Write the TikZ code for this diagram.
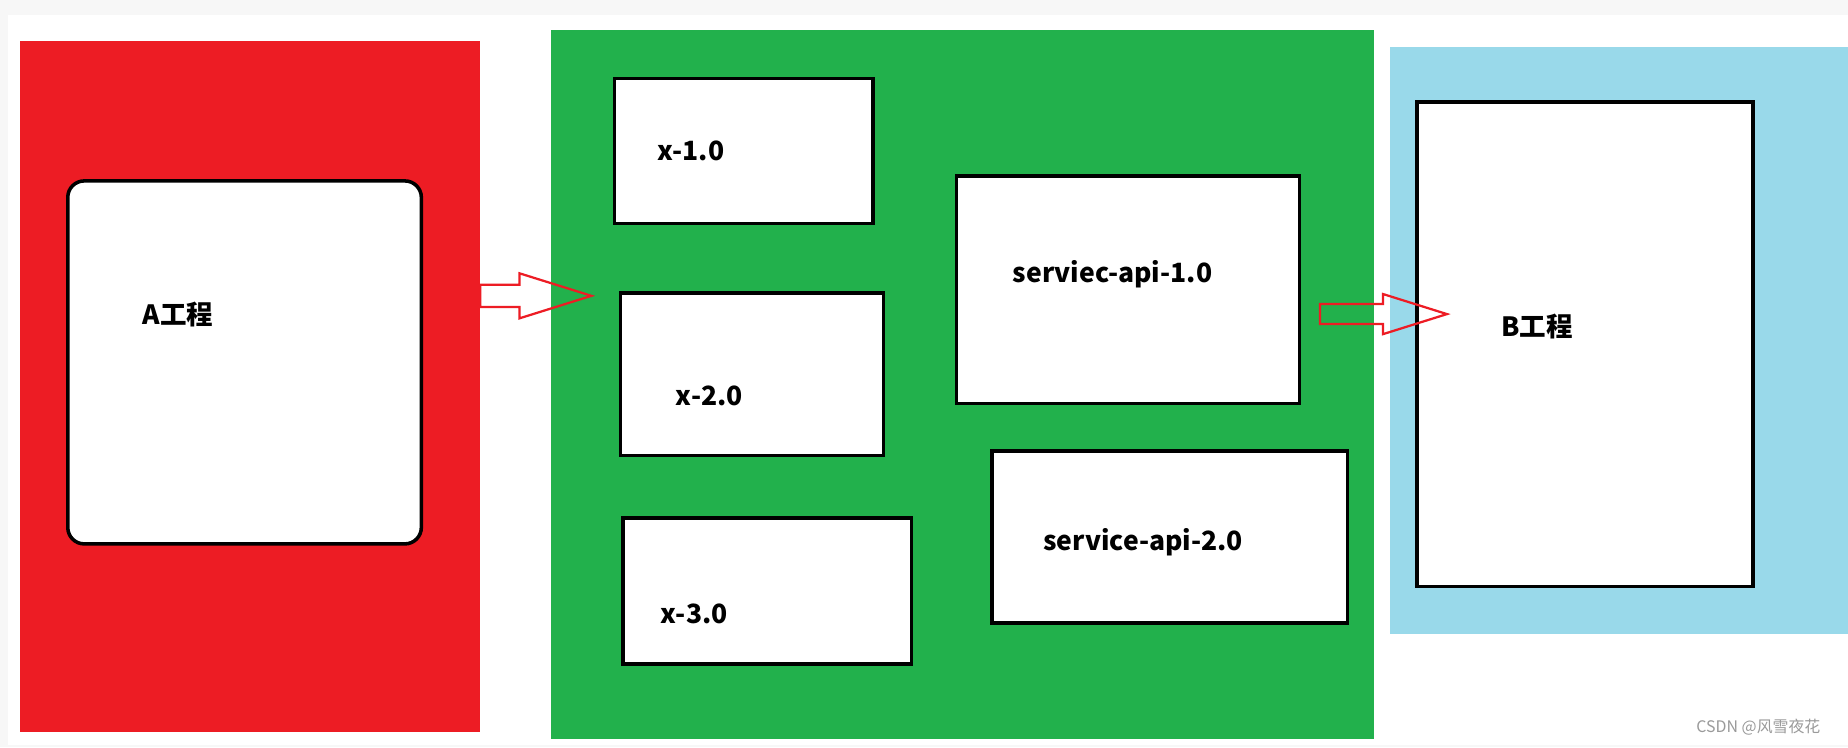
\documentclass[tikz,border=0pt]{standalone}
\usepackage{fontspec}
\setmainfont{Noto Sans CJK SC}
\usepackage{tikz}
\usetikzlibrary{positioning}
\definecolor{dgRed}{HTML}{ED1C24}
\definecolor{dgGreen}{HTML}{22B14C}
\definecolor{dgBlue}{HTML}{99D9EA}
\definecolor{dgPage}{HTML}{F7F7F7}
\definecolor{dgMark}{HTML}{9A9A9A}
\tikzset{
  dg panel/.style={draw=none, anchor=north west, inner sep=0pt},
  dg box/.style={draw=black, fill=white, line width=3pt,
    anchor=north west, inner sep=0pt},
  dg label/.style={font=\bfseries\fontsize{22.5}{27}\selectfont, inner sep=0pt},
  dg arrow/.style={draw=dgRed, line width=1.9pt, line join=miter},
  dg mark/.style={font=\fontsize{13.5}{16}\selectfont, text=dgMark, inner sep=0pt}
}
\begin{document}
\begin{tikzpicture}[x=1pt,y=-1pt]
\useasboundingbox (0,0) rectangle (1568,634);
\fill[dgPage] (0,0) rectangle (1568,634);
\fill[white] (7,13) rectangle (1568,632);
% three projects
\node[dg panel, fill=dgRed, minimum width=390pt, minimum height=586pt] (projA) at (17,35) {};
\node[dg panel, fill=dgGreen, minimum width=699pt, minimum height=602pt] (libs) at (467,25) {};
\node[dg panel, fill=dgBlue, minimum width=389pt, minimum height=498pt] (projB) at (1179,40) {};
% boxes
\node[dg box, rounded corners=14pt, minimum width=300pt, minimum height=308pt] (boxA) at (56,152) {};
\node[dg box, minimum width=219pt, minimum height=123pt] (x1) at (520,65) {};
\node[dg box, minimum width=223pt, minimum height=138pt] (x2) at (525,247) {};
\node[dg box, minimum width=245pt, minimum height=124pt] (x3) at (527,438) {};
\node[dg box, minimum width=291pt, minimum height=193pt] (api1) at (810,148) {};
\node[dg box, minimum width=302pt, minimum height=146pt] (api2) at (840,381) {};
\node[dg box, minimum width=285pt, minimum height=411pt] (boxB) at (1201,85) {};
% labels
\node[dg label] (labA) at (151,267) {A工程};
\node[dg label] (labx1) at (586,128) {x-1.0};
\node[dg label] (labx2) at (602,336) {x-2.0};
\node[dg label] (labx3) at (589,521) {x-3.0};
\node[dg label] (labapi1) at (944,233) {serviec-api-1.0};
\node[dg label] (labapi2) at (970,460) {service-api-2.0};
\node[dg label] (labB) at (1304,277) {B工程};
% block arrows
\coordinate (tailA) at (projA.east |- 0,251);
\coordinate (tailL) at (1120,266.5);
\foreach \tail/\sh/\hx/\hh/\tip in {tailA/9.4/33.4/19.1/94.4, tailL/8.5/53.5/17/107.7}{
  \begin{scope}[shift={(\tail)}]
  \draw[dg arrow] (0,-\sh) -- (\hx,-\sh) -- (\hx,-\hh) -- (\tip,0)
    -- (\hx,\hh) -- (\hx,\sh) -- (0,\sh) -- cycle;
  \end{scope}
}
\node[dg mark] (mark) at (1492,617) {CSDN @风雪夜花};
\end{tikzpicture}
\end{document}
